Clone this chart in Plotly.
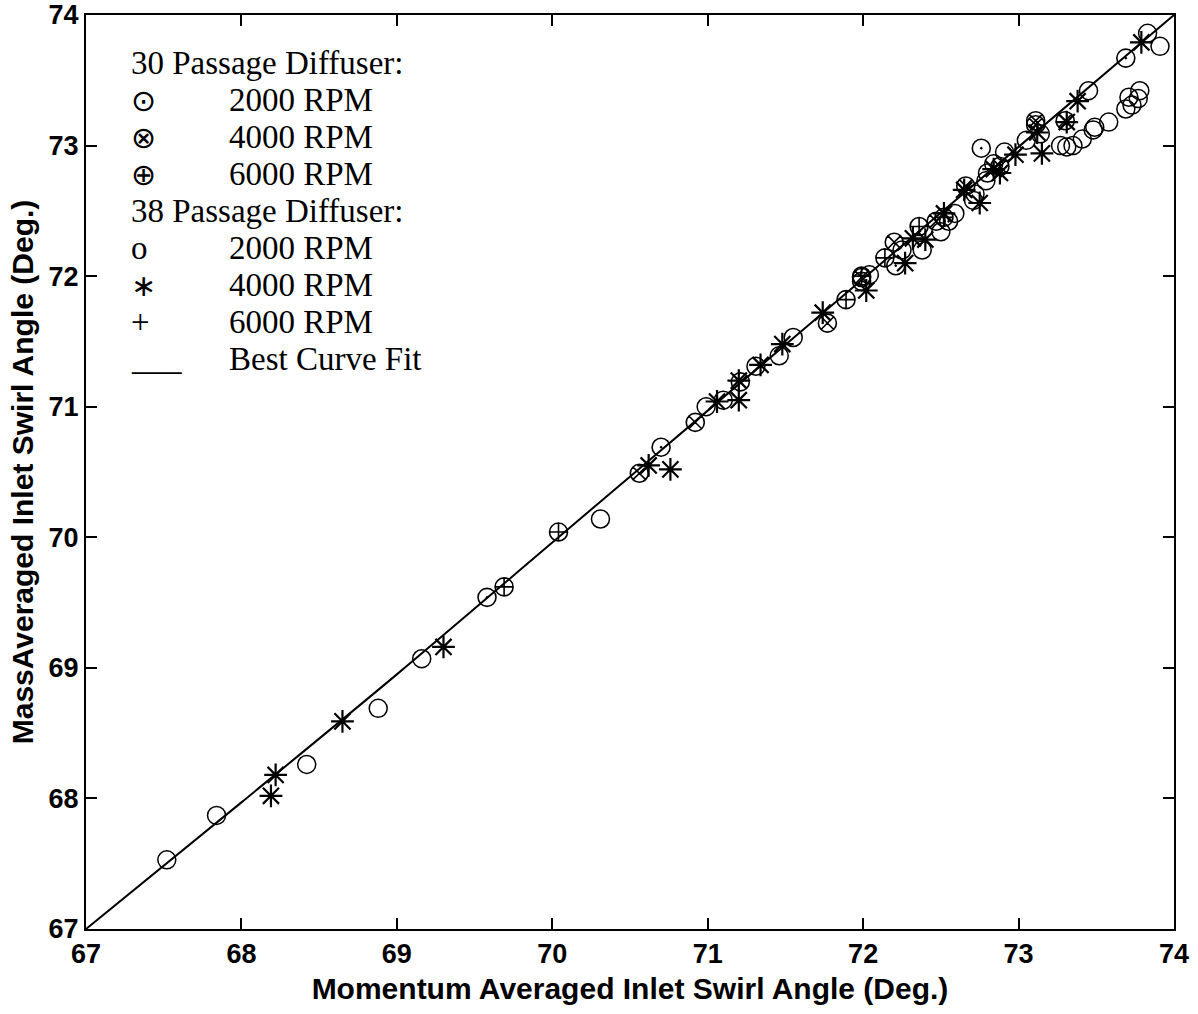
import plotly.graph_objects as go

# ---------------- data ----------------
# 30 Passage Diffuser, 2000 RPM (circle with dot)
p30_2000_x = [69.58, 70.70, 72.21, 72.76, 73.69, 71.99, 72.55]
p30_2000_y = [69.54, 70.69, 72.08, 72.98, 73.67, 71.96, 72.42]
# 30 Passage Diffuser, 4000 RPM (circle with x)
p30_4000_x = [70.56, 70.92, 71.21, 71.77, 71.99, 72.20, 72.47, 72.66, 72.88, 73.11, 73.11, 73.30]
p30_4000_y = [70.49, 70.88, 71.19, 71.64, 71.99, 72.26, 72.42, 72.69, 72.84, 73.19, 73.16, 73.19]
# 30 Passage Diffuser, 6000 RPM (circle with plus)
p30_6000_x = [69.69, 70.04, 71.89, 71.99, 72.14, 72.36, 72.52]
p30_6000_y = [69.62, 70.04, 71.82, 72.00, 72.14, 72.38, 72.45]
# 38 Passage Diffuser, 2000 RPM (open circle)
p38_2000_x = [67.52, 67.84, 68.42, 68.88, 69.16, 70.31, 70.99, 71.10, 71.31, 71.46,
              71.55, 72.04, 72.25, 72.38, 72.50, 72.59, 72.71, 72.72, 72.79, 72.80,
              72.84, 72.91, 73.05, 73.14, 73.27, 73.31, 73.35, 73.41, 73.48, 73.49,
              73.58, 73.69, 73.71, 73.77, 73.78, 73.73, 73.45, 73.83, 73.91]
p38_2000_y = [67.53, 67.87, 68.26, 68.69, 69.07, 70.14, 71.00, 71.05, 71.31, 71.39,
              71.53, 72.01, 72.20, 72.20, 72.34, 72.48, 72.58, 72.63, 72.73, 72.79,
              72.86, 72.95, 73.04, 73.09, 73.00, 72.99, 73.00, 73.05, 73.12, 73.14,
              73.18, 73.28, 73.37, 73.36, 73.42, 73.31, 73.42, 73.86, 73.76]
# 38 Passage Diffuser, 4000 RPM (asterisk)
p38_4000_x = [68.19, 68.22, 68.65, 69.30, 70.62, 70.76, 71.06, 71.20, 71.20, 71.34,
              71.48, 71.74, 72.02, 72.27, 72.32, 72.40, 72.52, 72.65, 72.75, 72.84,
              72.88, 72.98, 73.12, 73.15, 73.31, 73.38, 73.79]
p38_4000_y = [68.02, 68.18, 68.59, 69.16, 70.55, 70.52, 71.04, 71.20, 71.05, 71.32,
              71.48, 71.72, 71.89, 72.10, 72.29, 72.28, 72.48, 72.66, 72.56, 72.82,
              72.79, 72.93, 73.10, 72.94, 73.18, 73.34, 73.79]
# 38 Passage Diffuser, 6000 RPM (plus) -- none visible in the reference
p38_6000_x = []
p38_6000_y = []
# Best curve fit
fit_x = [67.0, 68.0, 69.0, 70.0, 71.0, 72.0, 73.0, 74.0]
fit_y = [67.0, 67.97, 68.95, 69.96, 70.97, 71.98, 72.99, 74.0]

tick_vals = [67, 68, 69, 70, 71, 72, 73, 74]
tick_text = ["67", "68", "69", "70", "71", "72", "73", "74"]

legend_lines = [
    ("", "30 Passage Diffuser:"),
    ("⊙", "2000 RPM"),
    ("⊗", "4000 RPM"),
    ("⊕", "6000 RPM"),
    ("", "38 Passage Diffuser:"),
    ("o", "2000 RPM"),
    ("∗", "4000 RPM"),
    ("+", "6000 RPM"),
    ("___", "Best Curve Fit"),
]

# ---------------- figure ----------------
fig = go.Figure()

fig.add_trace(go.Scatter(x=fit_x, y=fit_y, mode="lines", name="Best Curve Fit",
                         line=dict(color="black", width=2), line_shape="spline"))

def add_markers(xs, ys, symbol, size, width, name):
    fig.add_trace(go.Scatter(x=xs, y=ys, mode="markers", name=name,
                             marker=dict(symbol=symbol, size=size, color="black",
                                         line=dict(color="black", width=width))))

add_markers(p38_2000_x, p38_2000_y, "circle-open", 18, 1.5, "38 Passage 2000 RPM")
add_markers(p30_2000_x, p30_2000_y, "circle-open-dot", 18, 1.6, "30 Passage 2000 RPM")
add_markers(p30_4000_x, p30_4000_y, "circle-x-open", 18, 1.6, "30 Passage 4000 RPM")
add_markers(p30_6000_x, p30_6000_y, "circle-cross-open", 18, 1.6, "30 Passage 6000 RPM")
add_markers(p38_4000_x, p38_4000_y, "asterisk-open", 19, 2.2, "38 Passage 4000 RPM")
add_markers(p38_6000_x, p38_6000_y, "cross-thin-open", 16, 1.6, "38 Passage 6000 RPM")

# legend drawn as text, in pixel-like paper coordinates
L, R, T, B = 86, 24, 15, 85
W, H = 1198 - L - R, 1014 - T - B
def px(x):
    return (x - L) / W
def py(y):
    return (1014 - B - y) / H

serif = "Liberation Serif, Times New Roman, serif"
row0, step = 63, 37
for i, (sym, label) in enumerate(legend_lines):
    yy = row0 + i * step
    if sym == "":
        fig.add_annotation(x=px(129), y=py(yy), xref="paper", yref="paper",
                           text=label, showarrow=False, xanchor="left", yanchor="middle",
                           font=dict(family=serif, size=33, color="black"))
    else:
        if sym in ("⊙", "⊗", "⊕"):
            sym_font, sym_size = "DejaVu Sans, serif", 30
        elif sym == "∗":
            sym_font, sym_size = "DejaVu Sans, serif", 30
        else:
            sym_font, sym_size = serif, 33
        fig.add_annotation(x=px(129), y=py(yy), xref="paper", yref="paper",
                           text=sym, showarrow=False, xanchor="left", yanchor="middle",
                           font=dict(family=sym_font, size=sym_size, color="black"))
        fig.add_annotation(x=px(227), y=py(yy), xref="paper", yref="paper",
                           text=label, showarrow=False, xanchor="left", yanchor="middle",
                           font=dict(family=serif, size=33, color="black"))

tick_font = dict(family="Liberation Sans Narrow, Arial Narrow, Liberation Sans, Arial, sans-serif",
                 size=27, color="black", weight="bold")
xtitle_font = dict(family="Liberation Sans, Arial, sans-serif", size=30, color="black", weight="bold")
ytitle_font = dict(family="Liberation Sans, Arial, sans-serif", size=30, color="black", weight="bold")

axis_common = dict(showgrid=False, zeroline=False, showline=True, linecolor="black", linewidth=2,
                   mirror="ticks", ticks="inside", ticklen=11, tickwidth=1.5, tickcolor="black",
                   tickmode="array", tickvals=tick_vals, ticktext=tick_text, tickfont=tick_font,
                   automargin=False)

fig.update_layout(
    width=1198, height=1014,
    margin=dict(l=L, r=R, t=T, b=B, pad=0),
    paper_bgcolor="white", plot_bgcolor="white",
    showlegend=False,
    xaxis=dict(range=[67, 74], title=dict(text="Momentum Averaged Inlet Swirl Angle (Deg.)",
                                          font=xtitle_font, standoff=10), **axis_common),
    yaxis=dict(range=[67, 74], title=dict(text="MassAveraged Inlet Swirl Angle (Deg.)",
                                          font=ytitle_font, standoff=6), **axis_common),
)

fig.write_html("out.html")
